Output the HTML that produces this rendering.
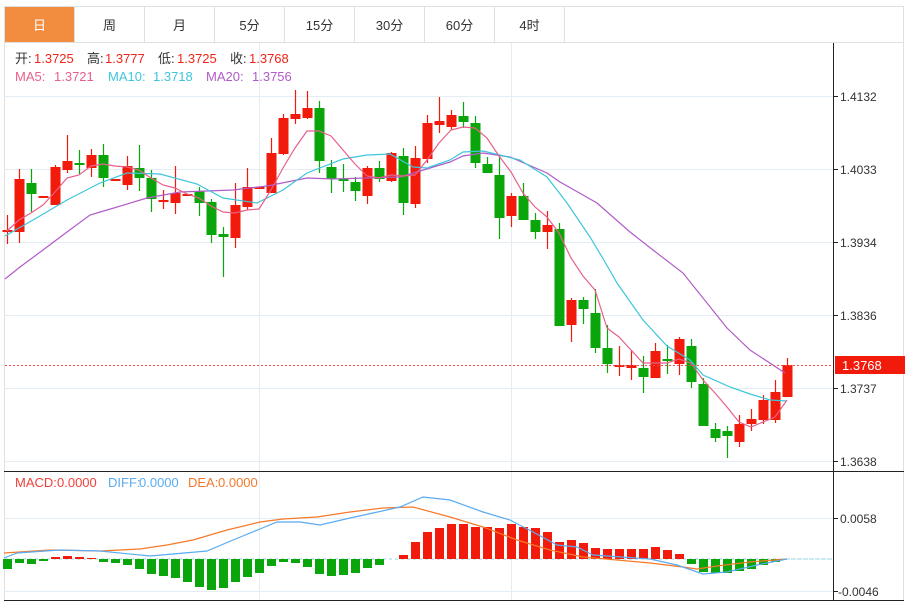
<!DOCTYPE html>
<html><head><meta charset="utf-8"><style>
body{margin:0;background:#fff;width:909px;height:602px;overflow:hidden;font-family:"Liberation Sans","Noto Sans CJK SC",sans-serif;}
svg{position:absolute;left:0;top:0}
</style></head><body>
<svg id="s" width="909" height="602" xmlns="http://www.w3.org/2000/svg" font-family="Liberation Sans, Noto Sans CJK SC, sans-serif">
<rect x="4.5" y="6.5" width="899" height="594" fill="none" stroke="#e0e0e0"/>
<line x1="4" y1="42.5" x2="904" y2="42.5" stroke="#e0e0e0"/>
<rect x="5" y="7" width="69" height="35" fill="#f28c3f"/>
<g stroke="#e0e0e0"><line x1="74.5" y1="7" x2="74.5" y2="42"/><line x1="144.5" y1="7" x2="144.5" y2="42"/><line x1="214.5" y1="7" x2="214.5" y2="42"/><line x1="284.5" y1="7" x2="284.5" y2="42"/><line x1="354.5" y1="7" x2="354.5" y2="42"/><line x1="424.5" y1="7" x2="424.5" y2="42"/><line x1="494.5" y1="7" x2="494.5" y2="42"/><line x1="564.5" y1="7" x2="564.5" y2="42"/></g>
<g font-size="13" text-anchor="middle" fill="#333"><text x="39.5" y="30" fill="#fff">日</text><text x="109.5" y="30">周</text><text x="179.5" y="30">月</text><text x="249.5" y="30">5分</text><text x="319.5" y="30">15分</text><text x="389.5" y="30">30分</text><text x="459.5" y="30">60分</text><text x="529.5" y="30">4时</text></g>
<g stroke="#e3edf3"><line x1="5" y1="96.5" x2="833" y2="96.5"/><line x1="5" y1="169.5" x2="833" y2="169.5"/><line x1="5" y1="242.5" x2="833" y2="242.5"/><line x1="5" y1="315.5" x2="833" y2="315.5"/><line x1="5" y1="388.5" x2="833" y2="388.5"/><line x1="5" y1="461.5" x2="833" y2="461.5"/><line x1="5" y1="518.5" x2="833" y2="518.5"/><line x1="5" y1="591.5" x2="833" y2="591.5"/><line x1="259.5" y1="43" x2="259.5" y2="600"/><line x1="511.5" y1="43" x2="511.5" y2="600"/></g>
<g id="c"></g>
<line x1="4" y1="471.5" x2="904" y2="471.5" stroke="#222"/>
<line x1="4" y1="600.5" x2="904" y2="600.5" stroke="#222"/>
<line x1="833.5" y1="43" x2="833.5" y2="601" stroke="#222"/>
<g stroke="#222"><line x1="833" y1="96.5" x2="838" y2="96.5"/><line x1="833" y1="169.5" x2="838" y2="169.5"/><line x1="833" y1="242.5" x2="838" y2="242.5"/><line x1="833" y1="315.5" x2="838" y2="315.5"/><line x1="833" y1="388.5" x2="838" y2="388.5"/><line x1="833" y1="461.5" x2="838" y2="461.5"/><line x1="833" y1="518.5" x2="838" y2="518.5"/><line x1="833" y1="591.5" x2="838" y2="591.5"/></g>
<g font-size="12" fill="#333"><text x="840" y="101">1.4132</text><text x="840" y="174">1.4033</text><text x="840" y="247">1.3934</text><text x="840" y="320">1.3836</text><text x="840" y="393">1.3737</text><text x="840" y="466">1.3638</text><text x="840" y="523">0.0058</text><text x="838" y="596">-0.0046</text></g>
<line x1="5" y1="365.5" x2="833" y2="365.5" stroke="#f25050" stroke-dasharray="2,2"/>
<rect x="835" y="356" width="70" height="18" fill="#f21a0a"/>
<text x="842" y="370" font-size="13" fill="#fff">1.3768</text>
<g font-size="13">
<text x="15" y="63" fill="#333">开:</text><text x="34" y="63" fill="#f0241a">1.3725</text>
<text x="87" y="63" fill="#333">高:</text><text x="105" y="63" fill="#f0241a">1.3777</text>
<text x="158" y="63" fill="#333">低:</text><text x="177" y="63" fill="#f0241a">1.3725</text>
<text x="230" y="63" fill="#333">收:</text><text x="249" y="63" fill="#f0241a">1.3768</text>
<text x="15" y="81" fill="#e8608a">MA5:</text><text x="54" y="81" fill="#e8608a">1.3721</text>
<text x="108" y="81" fill="#3cc6dc">MA10:</text><text x="153" y="81" fill="#3cc6dc">1.3718</text>
<text x="206" y="81" fill="#b05cc8">MA20:</text><text x="252" y="81" fill="#b05cc8">1.3756</text>
<text x="15" y="487" fill="#f0403a">MACD:</text><text x="57" y="487" fill="#f0403a">0.0000</text>
<text x="108" y="487" fill="#5aabf0">DIFF:</text><text x="139" y="487" fill="#5aabf0">0.0000</text>
<text x="188" y="487" fill="#f5792a">DEA:</text><text x="218" y="487" fill="#f5792a">0.0000</text>
</g>
</svg>
<script>
var C=[[230,232,215,244],[179,232,169,243],[183,194,169,212,1],[196,197,196,197],[167,205,165,205],[161,170,135,173],[163,164,150,174,1],[155,168,149,177],[155,178,144,187,1],[179,180,179,180],[166,185,156,190],[168,178,145,191,1],[178,199,170,212,1],[200,201,190,209],[193,203,166,214],[194,195,194,195],[191,203,187,216,1],[202,235,199,243,1],[234,237,227,277,1],[205,238,183,248],[187,207,168,210],[187,188,187,188],[153,193,138,193],[118,154,114,155],[114,119,90,124],[108,118,91,119],[108,161,101,173,1],[167,179,160,193,1],[179,181,164,192,1],[182,191,177,201,1],[168,196,166,204],[168,179,161,182,1],[153,181,152,182],[156,203,148,215,1],[158,204,146,208],[123,159,115,163],[121,125,97,133],[115,127,110,130],[116,122,102,128,1],[123,163,116,168,1],[164,173,157,173,1],[175,218,155,239,1],[196,216,193,227],[196,220,183,220,1],[220,232,213,239,1],[225,232,211,249],[229,326,223,326,1],[300,325,298,342],[300,309,297,324,1],[313,348,289,353,1],[348,364,325,373,1],[365,366,346,376],[365,368,350,380],[368,377,356,393,1],[351,378,343,378],[359,360,345,374,1],[339,364,337,375],[346,382,339,388,1],[384,426,378,426,1],[429,438,423,442,1],[431,436,426,458,1],[424,442,415,447],[419,424,409,431],[400,420,395,424],[392,420,380,423],[365,397,358,397]];
var H=[569,563,564,561,-557,-556,-557,-558,562,563,565,569,574,576,578,582,587,590,588,582,577,573,566,562,563,567,574,576,575,573,568,565,559,-555,-542,-532,-528,-524,-524,-527,-527,-528,-524,-527,-528,-532,-542,-540,-543,-548,-549,-549,-549,-549,-547,-550,-554,564,572,573,573,571,569,565,562,559];
var s='',R='#f21a0a',G='#0aa50a';
s+='<line x1="5" y1="559" x2="833" y2="559" stroke="#9ad4ea" stroke-dasharray="3,3"/>';
for(var i=0;i<66;i++){var x=7.5+12*i,h=H[i],col=h<0?R:G,y=Math.abs(h);
 if(y!=559)s+='<rect x="'+(x-4.5)+'" y="'+Math.min(y,559)+'" width="9" height="'+Math.abs(y-559)+'" fill="'+col+'"/>';}
for(var i=0;i<66;i++){var c=C[i],x=7.5+12*i,col=c[4]?G:R;
 s+='<line x1="'+x+'" y1="'+c[2]+'" x2="'+x+'" y2="'+c[3]+'" stroke="'+col+'" stroke-width="1.2"/>';
 s+='<rect x="'+(x-5)+'" y="'+c[0]+'" width="10" height="'+Math.max(c[1]-c[0],2)+'" fill="'+col+'"/>';}
function pl(p,c){return '<polyline points="'+p+'" fill="none" stroke="'+c+'" stroke-width="1.2"/>';}
s+=pl("5,279 20,267 43,250 67,232 90,215 107,210 147,198 180,192 233,190 267,186 307,178 333,179 400,177 450,162 463,156 483,153 510,157 547,173 560,182 583,195 597,203 630,232 653,250 683,273 727,328 750,350 785,373","#b05cc8");
s+=pl("5,236 33,220 67,200 100,183 127,173 160,174 197,184 223,198 257,203 283,190 307,173 343,159 367,155 390,154 413,167 427,168 450,160 463,152 483,151 500,155 520,160 547,177 567,203 590,237 605,262 617,283 643,320 667,346 690,360 703,375 730,387 750,394 770,400 787,401","#3cc6dc");
s+=pl("7,231 19,220 31,213 43,205 55,192 67,178 79,175 91,166 103,164 115,166 127,167 139,170 151,178 163,185 175,188 187,194 199,198 211,206 223,212 235,213 247,210 259,209 271,190 283,168 295,148 307,131 319,131 331,136 343,150 355,164 367,176 379,178 391,175 403,176 415,175 427,160 439,143 451,130 463,127 475,128 487,138 499,156 511,172 523,193 535,207 547,217 559,233 571,258 583,276 595,290 607,328 619,337 631,350 643,363 655,363 667,363 679,359 691,363 703,380 715,393 727,407 739,422 751,427 763,422 775,417 787,400","#e8608a");
s+=pl("4,553 50,550 100,551 140,549 167,545 193,540 227,530 260,522 283,519 317,517 350,512 383,508 413,507 450,517 483,527 517,540 550,550 583,557 617,560 650,563 683,567 697,569 717,566 750,562 787,559","#f5792a");
s+=pl("4,558 17,553 60,550 100,551 150,556 207,551 233,540 260,529 277,522 300,522 320,525 350,518 373,513 400,507 423,497 450,500 483,512 510,520 533,532 557,545 577,547 593,555 650,559 677,565 703,574 727,572 757,565 787,559","#5aabf0");
s+='<line x1="787" y1="559" x2="833" y2="559" stroke="#9ad4ea" stroke-dasharray="3,3"/>';
document.getElementById('c').innerHTML=s;
</script>
</body></html>
